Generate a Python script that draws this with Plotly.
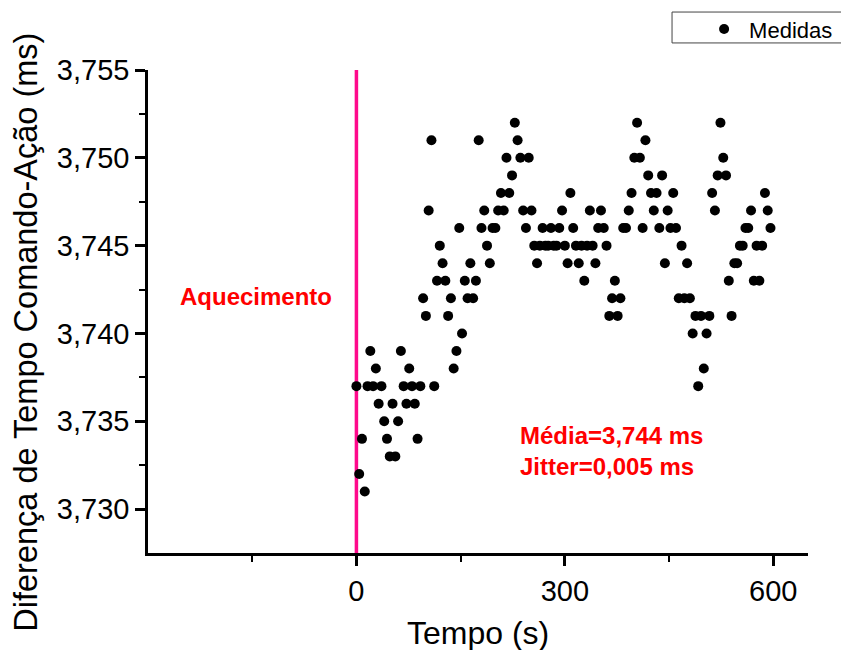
import plotly.graph_objects as go

# ---- data ----
tempo_s = [
    0, 4, 8, 12, 16, 20, 24, 28, 32, 36, 40, 44, 48, 52, 56,
    60, 64, 68, 72, 76, 80, 84, 88, 92, 96, 100, 104, 108, 112, 116,
    120, 124, 128, 132, 136, 140, 144, 148, 152, 156, 160, 164, 168, 172, 176,
    180, 184, 188, 192, 196, 200, 204, 208, 212, 216, 220, 224, 228, 232, 236,
    240, 244, 248, 252, 256, 260, 264, 268, 272, 276, 280, 284, 288, 292, 296,
    300, 304, 308, 312, 316, 320, 324, 328, 332, 336, 340, 344, 348, 352, 356,
    360, 364, 368, 372, 376, 380, 384, 388, 392, 396, 400, 404, 408, 412, 416,
    420, 424, 428, 432, 436, 440, 444, 448, 452, 456, 460, 464, 468, 472, 476,
    480, 484, 488, 492, 496, 500, 504, 508, 512, 516, 520, 524, 528, 532, 536,
    540, 544, 548, 552, 556, 560, 564, 568, 572, 576, 580, 584, 588, 592, 596,
]
medidas_ms = [
    3.737, 3.732, 3.734, 3.731, 3.737, 3.739, 3.737, 3.738, 3.736, 3.737, 3.735, 3.734, 3.733, 3.736, 3.733,
    3.735, 3.739, 3.737, 3.736, 3.738, 3.737, 3.736, 3.734, 3.737, 3.742, 3.741, 3.747, 3.751, 3.737, 3.743,
    3.745, 3.744, 3.743, 3.741, 3.742, 3.738, 3.739, 3.746, 3.740, 3.743, 3.742, 3.744, 3.742, 3.743, 3.751,
    3.746, 3.747, 3.745, 3.744, 3.746, 3.746, 3.747, 3.748, 3.747, 3.750, 3.748, 3.749, 3.752, 3.751, 3.750,
    3.747, 3.746, 3.750, 3.747, 3.745, 3.744, 3.745, 3.746, 3.745, 3.745, 3.746, 3.745, 3.745, 3.746, 3.747,
    3.745, 3.744, 3.748, 3.746, 3.745, 3.744, 3.745, 3.743, 3.745, 3.747, 3.745, 3.744, 3.746, 3.747, 3.746,
    3.745, 3.741, 3.742, 3.743, 3.741, 3.742, 3.746, 3.746, 3.747, 3.748, 3.750, 3.752, 3.750, 3.746, 3.751,
    3.749, 3.748, 3.747, 3.748, 3.746, 3.749, 3.744, 3.747, 3.746, 3.748, 3.746, 3.742, 3.745, 3.742, 3.744,
    3.742, 3.740, 3.741, 3.737, 3.741, 3.738, 3.740, 3.741, 3.748, 3.747, 3.749, 3.752, 3.750, 3.749, 3.743,
    3.741, 3.744, 3.744, 3.745, 3.745, 3.746, 3.746, 3.747, 3.743, 3.745, 3.743, 3.745, 3.748, 3.747, 3.746,
]
series_name = "Medidas"
aquecimento_x = 0  # start of measurements (end of warm-up)

x_range = [-300, 650]
y_range = [3.7275, 3.755]
x_tickvals = [0, 300, 600]
x_ticktext = ["0", "300", "600"]
x_minor = [-150, 150, 450]
y_tickvals = [3.730, 3.735, 3.740, 3.745, 3.750, 3.755]
y_ticktext = ["3,730", "3,735", "3,740", "3,745", "3,750", "3,755"]
y_minor = [3.7325, 3.7375, 3.7425, 3.7475, 3.7525]

x_title = "Tempo (s)"
y_title = "Diferença de Tempo Comando-Ação (ms)"
label_aquecimento = "Aquecimento"
label_media = "Média=3,744 ms"
label_jitter = "Jitter=0,005 ms"

FONT = "Liberation Sans, Arial, sans-serif"

fig = go.Figure()
fig.add_trace(go.Scatter(
    x=tempo_s, y=medidas_ms, mode="markers", name=series_name,
    marker=dict(color="black", size=10),
    showlegend=True,
))

fig.add_shape(type="line", xref="x", yref="paper",
              x0=aquecimento_x, x1=aquecimento_x, y0=0, y1=1,
              line=dict(color="#FF0A8C", width=3.5), layer="below")

# legend frame (extends past the right edge as in the reference)
fig.add_shape(type="rect", xref="paper", yref="paper",
              x0=0.794, x1=1.06, y0=1.056, y1=1.12,
              line=dict(color="#444", width=1), fillcolor="white", layer="below")

axis_common = dict(
    showline=True, linecolor="black", linewidth=2.5,
    ticks="outside", ticklen=10, tickwidth=2.5, tickcolor="black",
    showgrid=False, zeroline=False,
    tickfont=dict(family=FONT, size=29, color="black"),
)
fig.update_xaxes(range=x_range, tickmode="array", tickvals=x_tickvals, ticktext=x_ticktext,
                 minor=dict(tickmode="array", tickvals=x_minor, ticks="outside", ticklen=6,
                            tickwidth=2, tickcolor="black"),
                 **axis_common)
fig.update_yaxes(range=y_range, tickmode="array", tickvals=y_tickvals, ticktext=y_ticktext,
                 minor=dict(tickmode="array", tickvals=y_minor, ticks="outside", ticklen=6,
                            tickwidth=2, tickcolor="black"),
                 **axis_common)

fig.add_annotation(text=x_title, xref="paper", yref="paper", x=0.5, y=-0.165,
                   xanchor="center", yanchor="middle", showarrow=False,
                   font=dict(family=FONT, size=32, color="black"))
fig.add_annotation(text=y_title, xref="paper", yref="paper", x=-0.185, y=0.458,
                   xanchor="center", yanchor="middle", showarrow=False, textangle=-90,
                   font=dict(family=FONT, size=32.5, color="black"))
fig.add_annotation(text="<b>%s</b>" % label_aquecimento, xref="x", yref="y",
                   x=-145, y=3.7421, xanchor="center", yanchor="middle", showarrow=False,
                   font=dict(family=FONT, size=24, color="#FF0000"))
fig.add_annotation(text="<b>%s</b><br><b>%s</b>" % (label_media, label_jitter), xref="x", yref="y",
                   x=233, y=3.7333, xanchor="left", yanchor="middle", showarrow=False, align="left",
                   font=dict(family=FONT, size=24, color="#FF0000"))

fig.update_layout(
    width=841, height=650,
    margin=dict(l=148, r=33, t=70, b=97, autoexpand=False),
    paper_bgcolor="white", plot_bgcolor="white",
    legend=dict(x=0.835, y=1.128, xanchor="left", yanchor="top",
                borderwidth=0, bgcolor="rgba(0,0,0,0)", itemwidth=40,
                font=dict(family=FONT, size=22, color="black")),
)

fig.write_html("out.html")
